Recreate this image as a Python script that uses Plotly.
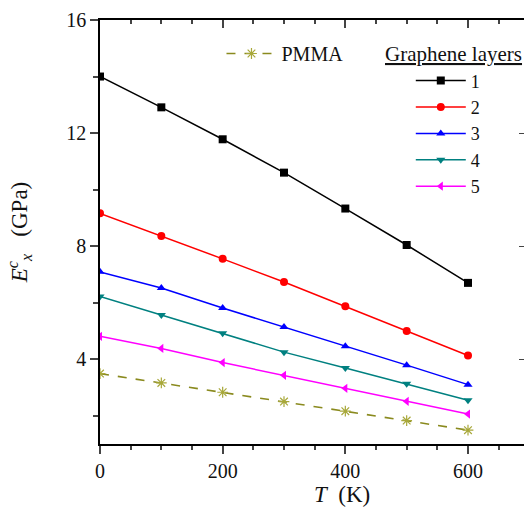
import plotly.graph_objects as go

temperature = [0, 100, 200, 300, 400, 500, 600]
layer1 = [14.00, 12.91, 11.78, 10.60, 9.33, 8.04, 6.70]
layer2 = [9.16, 8.36, 7.55, 6.73, 5.87, 5.00, 4.13]
layer3 = [7.09, 6.52, 5.81, 5.14, 4.46, 3.79, 3.10]
layer4 = [6.22, 5.56, 4.92, 4.25, 3.69, 3.13, 2.55]
layer5 = [4.81, 4.38, 3.88, 3.43, 2.97, 2.51, 2.06]
pmma = [3.49, 3.16, 2.83, 2.50, 2.16, 1.83, 1.49]

layer_names = ["1", "2", "3", "4", "5"]
layer_values = [layer1, layer2, layer3, layer4, layer5]
layer_colors = ["#000000", "#ff0000", "#0000ff", "#008080", "#ff00ff"]
layer_symbols = ["square", "circle", "triangle-up", "triangle-down", "triangle-left"]

x_ticks = [0, 200, 400, 600]
y_ticks = [4, 8, 12, 16]

FONT = "Liberation Serif"

fig = go.Figure()

fig.add_trace(go.Scatter(
    x=temperature, y=pmma, name="PMMA", mode="lines+markers",
    line=dict(color="#8a8a1e", width=1.6, dash="dash"),
    marker=dict(symbol="asterisk-open", size=9, color="#a8a83a",
                line=dict(color="#a8a83a", width=1.2)),
    legend="legend2",
))

for name, vals, col, sym in zip(layer_names, layer_values, layer_colors, layer_symbols):
    fig.add_trace(go.Scatter(
        x=temperature, y=vals, name=name, mode="lines+markers",
        line=dict(color=col, width=1.5),
        marker=dict(symbol=sym, size=8, color=col),
        legend="legend",
    ))

# helper traces for mirrored axes (top x, right y)
fig.add_trace(go.Scatter(x=[], y=[], xaxis="x2", yaxis="y", showlegend=False))
fig.add_trace(go.Scatter(x=[], y=[], xaxis="x", yaxis="y2", showlegend=False))

XR = [0, 691.3]
YR = [1, 16]

fig.update_layout(
    width=524, height=512,
    margin=dict(l=100, r=0, t=20, b=68),
    paper_bgcolor="white", plot_bgcolor="white",
    font=dict(family=FONT, size=18, color="#111111"),
    xaxis=dict(
        range=XR, tickvals=x_ticks, ticks="outside", ticklen=8, tickwidth=1.5,
        showline=True, linecolor="black", linewidth=1.5, showgrid=False, zeroline=False,
        minor=dict(dtick=50, tick0=0, ticks="outside", ticklen=4, tickwidth=1.5, showgrid=False),
        tickfont=dict(size=20, family=FONT), automargin=False,
    ),
    xaxis2=dict(
        range=XR, overlaying="x", side="top", tickvals=x_ticks, ticks="inside", ticklen=8,
        tickwidth=1.5, showline=True, linecolor="black", linewidth=1.5, showgrid=False,
        zeroline=False, showticklabels=False, automargin=False,
        minor=dict(dtick=50, tick0=0, ticks="inside", ticklen=4, tickwidth=1.5, showgrid=False),
    ),
    yaxis=dict(
        range=YR, tickvals=y_ticks, ticks="outside", ticklen=8, tickwidth=1.5,
        showline=True, linecolor="black", linewidth=1.5, showgrid=False, zeroline=False,
        minor=dict(tickvals=[2, 6, 10, 14], ticks="outside", ticklen=5, tickwidth=1.5, showgrid=False),
        tickfont=dict(size=20, family=FONT), automargin=False,
        title=dict(text="<i>E</i><sup><i>c</i></sup><sub><i>x</i></sub>   (GPa)",
                   font=dict(size=23, family=FONT), standoff=32),
    ),
    yaxis2=dict(
        range=YR, overlaying="y", side="right", tickvals=y_ticks, ticks="inside", ticklen=5,
        tickwidth=1.2, tickcolor="#444444", showline=False, showgrid=False, zeroline=False,
        showticklabels=False, automargin=False,
    ),
    legend=dict(
        x=0.733, y=0.90, xanchor="left", yanchor="top", xref="paper", yref="paper",
        bgcolor="rgba(0,0,0,0)", borderwidth=0, font=dict(size=18, family=FONT),
        itemwidth=50, tracegroupgap=0,
    ),
    legend2=dict(
        x=0.2865, y=0.967, xanchor="left", yanchor="top", xref="paper", yref="paper",
        bgcolor="rgba(0,0,0,0)", borderwidth=0, font=dict(size=20, family=FONT),
        itemwidth=50,
    ),
    annotations=[
        dict(text="<u>Graphene layers</u>", xref="paper", yref="paper",
             x=0.999, y=0.952, xanchor="right", yanchor="top", showarrow=False,
             font=dict(size=21, family=FONT)),
        dict(text="<i>T</i>  (K)", xref="paper", yref="paper",
             x=0.571, y=-0.120, xanchor="center", yanchor="middle", showarrow=False,
             font=dict(size=23, family=FONT)),
    ],
)

fig.write_html("out.html", config={"displayModeBar": False},
               post_script="document.body.style.margin='0';document.body.style.overflow='hidden';")
